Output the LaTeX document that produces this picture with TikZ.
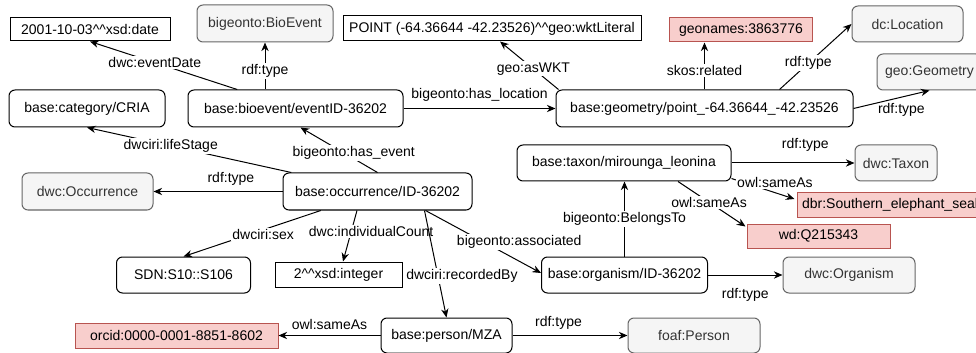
\documentclass[tikz,border=0pt]{standalone}
\usepackage{fontspec}
\setmainfont{Liberation Sans}
\usetikzlibrary{arrows.meta,calc}
\definecolor{clsfill}{HTML}{F5F5F5}
\definecolor{clsline}{HTML}{666666}
\definecolor{clstext}{HTML}{333333}
\definecolor{extfill}{HTML}{F8CECC}
\definecolor{extline}{HTML}{B85450}
\tikzset{
  lit/.style={draw=black, line width=0.75pt, fill=white, inner sep=0pt,
    font=\fontsize{10.5}{12.6}\selectfont},
  res/.style={lit, rounded corners=4.5pt},
  cls/.style={res, fill=clsfill, draw=clsline, text=clstext},
  ext/.style={lit, fill=extfill, draw=extline},
  rel/.style={line width=0.75pt, -{Stealth[length=6.5pt,width=5.5pt]}},
  lbl/.style={fill=white, inner sep=1pt, font=\fontsize{10.5}{12.6}\selectfont},
}
\begin{document}
\begin{tikzpicture}[x=0.75pt, y=-0.75pt]
\useasboundingbox (0,0) rectangle (976,353);

% top row
\node[lit, minimum width=120pt, minimum height=17.25pt] (date) at (90,29.5) {2001-10-03\textasciicircum\textasciicircum xsd:date};
\node[cls, minimum width=102pt, minimum height=27.75pt] (bioev) at (265,23.5) {bigeonto:BioEvent};
\node[lit, minimum width=223.5pt, minimum height=18.75pt] (wkt) at (492,28.5) {POINT (-64.36644 -42.23526)\textasciicircum\textasciicircum geo:wktLiteral};
\node[ext, minimum width=107.25pt, minimum height=18pt] (geonames) at (741,30) {geonames:3863776};
\node[cls, minimum width=83.25pt, minimum height=27pt] (loc) at (907.5,24) {dc:Location};
\node[cls, minimum width=78.75pt, minimum height=27pt] (geomcls) at (929.5,72) {geo:Geometry};

% middle
\node[res, minimum width=117pt, minimum height=27.75pt] (cat) at (87,108.5) {base:category/CRIA};
\node[res, minimum width=161.25pt, minimum height=27.75pt] (event) at (295.5,108.5) {base:bioevent/eventID-36202};
\node[res, minimum width=222.75pt, minimum height=27.75pt] (geom) at (704.5,108.5) {base:geometry/point\_-64.36644\_-42.23526};
\node[res, minimum width=160.5pt, minimum height=27pt] (taxon) at (624,163) {base:taxon/mirounga\_leonina};
\node[cls, minimum width=61.5pt, minimum height=27pt] (taxcls) at (896,163) {dwc:Taxon};
\node[cls, minimum width=98.25pt, minimum height=27.75pt] (occcls) at (87.5,191.5) {dwc:Occurrence};
\node[res, minimum width=141.75pt, minimum height=27.75pt] (occ) at (377.5,191.5) {base:occurrence/ID-36202};
\node[ext, minimum width=139.5pt, minimum height=18pt] (dbr) at (890,205) {dbr:Southern\_elephant\_seal};
\node[ext, minimum width=107.25pt, minimum height=18pt] (wd) at (818.5,236) {wd:Q215343};

% bottom rows
\node[res, minimum width=100.5pt, minimum height=27pt] (sdn) at (183.5,275) {SDN:S10::S106};
\node[lit, minimum width=95.25pt, minimum height=18.75pt] (int) at (338.5,274.5) {2\textasciicircum\textasciicircum xsd:integer};
\node[res, minimum width=124.5pt, minimum height=27pt] (org) at (624.5,275) {base:organism/ID-36202};
\node[cls, minimum width=99pt, minimum height=27pt] (orgcls) at (849,275) {dwc:Organism};
\node[ext, minimum width=152.25pt, minimum height=18.75pt] (orcid) at (176.5,335.5) {orcid:0000-0001-8851-8602};
\node[res, minimum width=98.25pt, minimum height=26.25pt] (person) at (446.5,335.5) {base:person/MZA};
\node[cls, minimum width=99pt, minimum height=26.25pt] (foaf) at (694,335.5) {foaf:Person};

% bioevent
\draw[rel] (event) -- (date.south) node[lbl, pos=0.56] {dwc:eventDate};
\draw[rel] (bioev.south |- event.north) -- (bioev.south) node[lbl, pos=0.4] {rdf:type};
\draw[rel] (event) -- (geom) node[lbl, fill=none, midway, above=4pt] {bigeonto:has\_location};

% geometry
\draw[rel] ($(geom.north west)+(3,0)$) -- ($(wkt.south)+(8,0)$) node[lbl, pos=0.43] {geo:asWKT};
\draw[rel] (geom.north) -- (geom.north |- geonames.south) node[lbl, pos=0.4] {skos:related};
\draw[rel] ($(geom.north)+(75,0)$) -- (loc.west) node[lbl, pos=0.4] {rdf:type};
\draw[rel] (geom.east) -- (geomcls.south) node[lbl, fill=none, pos=0.63, below=3.5pt] {rdf:type};

% occurrence
\draw[rel] (occ) -- (cat.south) node[lbl, pos=0.59] {dwciri:lifeStage};
\draw[rel] (occ.north) -- ($(event.south)+(5,0)$) node[lbl, pos=0.43, xshift=7pt] {bigeonto:has\_event};
\draw[rel] (occ) -- (occcls) node[lbl, fill=none, pos=0.4, above=3pt] {rdf:type};
\draw[rel] (occ) -- (sdn.north) node[lbl, pos=0.42, yshift=-3.5pt] {dwciri:sex};
\draw[rel] ($(occ.south)+(-20.5,0)$) -- ($(int.north)+(4.5,0)$) node[lbl, pos=0.42, xshift=15pt] {dwc:individualCount};
\draw[rel] ($(occ.south)+(47,0)$) -- (person.north) node[lbl, pos=0.61, xshift=18pt] {dwciri:recordedBy};
\draw[rel] ($(occ.south)+(48,0)$) -- ($(org.west)+(0,-2)$) node[lbl, pos=0.5, xshift=27pt] {bigeonto:associated};

% organism and taxon
\draw[rel] (org.north) -- (org.north |- taxon.south) node[lbl, midway] {bigeonto:BelongsTo};
\draw[rel] (org) -- (orgcls) node[lbl, fill=none, midway, below=8.5pt] {rdf:type};
\draw[rel] (taxon) -- (taxcls) node[lbl, fill=none, pos=0.6, above=7pt] {rdf:type};
\draw[rel] ($(taxon.south east)+(0,-3)$) -- ($(dbr.west)+(-2,-6)$) node[lbl, pos=0.69, yshift=7.5pt] {owl:sameAs};
\draw[rel] ($(taxon.south)+(54,0)$) -- ($(wd.north west)+(-1,3)$) node[lbl, pos=0.46] {owl:sameAs};

% person
\draw[rel] (person) -- (orcid) node[lbl, fill=none, midway, above=3pt] {owl:sameAs};
\draw[rel] (person) -- (foaf) node[lbl, fill=none, pos=0.4, above=3pt] {rdf:type};
\end{tikzpicture}
\end{document}
